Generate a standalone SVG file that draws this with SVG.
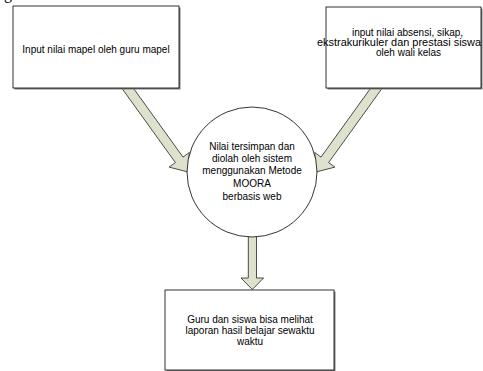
<svg xmlns="http://www.w3.org/2000/svg" width="483" height="371" viewBox="0 0 483 371">
<style>
.bg{fill:#ffffff}
.box{fill:#ffffff;stroke:#000000;stroke-width:0.8}
.shadow{fill:#7f7f7f}
.arrow{fill:#dde2cc;stroke:#222222;stroke-width:0.8;stroke-linejoin:miter}
.t{font-family:"Liberation Sans",Arial,sans-serif;font-size:10px;fill:#000000;text-anchor:middle}
.frag{font-family:"Liberation Serif","Times New Roman",serif;font-size:16px;fill:#000000}
</style>
<rect class="bg" x="0" y="0" width="483" height="371"/>
<text class="frag" x="4" y="-1">g</text>
<g id="connectors">
<polygon class="arrow" points="121.4,87.6 175.4,162.6 169.1,167.1 188,172 189.3,152.5 183,157.1 129,82.1"/>
<polygon class="arrow" points="382.6,87.6 328.6,162.6 334.9,167.1 316,172 314.7,152.5 321,157.1 375,82.1"/>
<polygon class="arrow" points="248.3,230 248.3,278 241,278 252.3,289.5 263.6,278 256.5,278 256.5,230"/>
</g>
<g id="node-input-mapel">
<rect class="shadow" x="14.5" y="7.5" width="166" height="82"/>
<rect class="box" x="13" y="6" width="166" height="82"/>
<text class="t" x="96" y="52.5">Input nilai mapel oleh guru mapel</text>
</g>
<g id="node-input-wali">
<rect class="shadow" x="327.5" y="8.5" width="155" height="81"/>
<rect class="box" x="326" y="7" width="155" height="81"/>
<text class="t" x="407.5" y="36.2">input nilai absensi, sikap,</text>
<text class="t" x="399" y="46.2" textLength="164" lengthAdjust="spacingAndGlyphs">ekstrakurikuler dan prestasi siswa</text>
<text class="t" x="408.5" y="55.8">oleh wali kelas</text>
</g>
<g id="node-sistem">
<circle class="box" cx="252" cy="172" r="65"/>
<text class="t" x="252" y="150">Nilai tersimpan dan</text>
<text class="t" x="252" y="162.4">diolah oleh sistem</text>
<text class="t" x="252" y="174.3">menggunakan Metode</text>
<text class="t" x="252" y="186.8">MOORA</text>
<text class="t" x="252" y="200">berbasis web</text>
</g>
<g id="node-laporan">
<rect class="shadow" x="166.5" y="291.5" width="169" height="80"/>
<rect class="box" x="165" y="290" width="169" height="80"/>
<text class="t" x="250" y="322.5">Guru dan siswa bisa melihat</text>
<text class="t" x="250" y="334">laporan hasil belajar sewaktu</text>
<text class="t" x="250" y="344.5">waktu</text>
</g>
</svg>
